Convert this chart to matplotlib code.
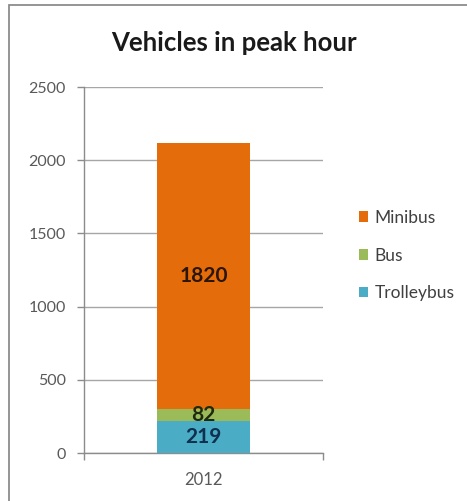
import matplotlib
matplotlib.use("Agg")
from matplotlib import pyplot as plt
from matplotlib.patches import Rectangle

plt.rcParams['font.family'] = ['Lato', 'DejaVu Sans']

years = ['2012']
series = ['Trolleybus', 'Bus', 'Minibus']
values = {'Trolleybus': [219], 'Bus': [82], 'Minibus': [1820]}
colors = {'Trolleybus': '#4bacc6', 'Bus': '#9bbb59', 'Minibus': '#e46c0a'}
labelColors = {'Trolleybus': '#10304f', 'Bus': '#1e2a10', 'Minibus': '#2b1505'}
yticks = [0, 500, 1000, 1500, 2000, 2500]

fig = plt.figure(figsize=(4.67, 5.01), dpi=100)
ax = fig.add_axes([0.18, 0.0958, 0.5116, 0.7305])

# outer chart frame
fig.patches.append(Rectangle((9 / 467, -0.1), 1.2, 1.1 - 5 / 501, transform=fig.transFigure,
                             fill=False, edgecolor='#8c8c8c', linewidth=1.3))

bottom = [0] * len(years)
handles = {}
for name in series:
    bars = ax.bar(range(len(years)), values[name], width=0.39, bottom=bottom,
                  color=colors[name], zorder=3)
    handles[name] = bars
    for i, v in enumerate(values[name]):
        ax.text(i, bottom[i] + v / 2, str(v), ha='center', va='center',
                fontsize=15, fontweight='bold', color=labelColors[name], zorder=4)
    bottom = [b + v for b, v in zip(bottom, values[name])]

ax.set_xlim(-0.5, 0.5)
ax.set_ylim(0, 2500)
ax.set_yticks(yticks)
ax.set_yticklabels([str(t) for t in yticks])
ax.set_xticks(range(len(years)))
ax.set_xticklabels(years)
ax.grid(axis='y', color='#a6a6a6', linewidth=1.0, zorder=0)
ax.tick_params(axis='y', length=5, width=1, color='#8c8c8c', pad=8, labelsize=11.5, labelcolor='#595959')
ax.tick_params(axis='x', length=0, pad=14, labelsize=12, labelcolor='#595959')
# category boundary ticks
ax.set_xticks([-0.5, 0.5], minor=True)
ax.tick_params(axis='x', which='minor', length=5, width=1, color='#8c8c8c')

for s in ['top', 'right']:
    ax.spines[s].set_visible(False)
for s in ['left', 'bottom']:
    ax.spines[s].set_color('#8c8c8c')
    ax.spines[s].set_linewidth(1.0)

fig.text(0.5, 0.915, 'Vehicles in peak hour', ha='center', va='center',
         fontsize=18.5, fontweight='bold', color='#1a1a1a')

leg = fig.legend([handles[n] for n in ['Minibus', 'Bus', 'Trolleybus']],
                 ['Minibus', 'Bus', 'Trolleybus'], loc='center left',
                 bbox_to_anchor=(0.735, 0.49), frameon=False, fontsize=12.5,
                 handlelength=0.55, handleheight=0.55, handletextpad=0.35, labelspacing=1.25)
for t in leg.get_texts():
    t.set_color('#404040')

fig.savefig('out.png', dpi=100)
